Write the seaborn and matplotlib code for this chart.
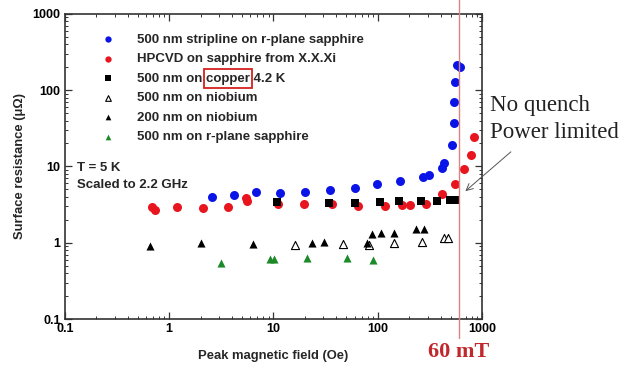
import matplotlib
matplotlib.use("Agg")
import matplotlib.pyplot as plt
import seaborn as sns
import numpy as np
from matplotlib.patches import Rectangle
from matplotlib.ticker import FixedLocator, FixedFormatter, LogLocator, NullFormatter

# ---------------- data ----------------
blue_label = "500 nm stripline on r-plane sapphire"
blue_x = [2.6, 4.2, 6.8, 11.5, 20, 35, 60, 99, 163, 273, 312, 410, 432, 515, 535, 542, 551, 572, 615]
blue_y = [3.94, 4.23, 4.59, 4.45, 4.67, 4.92, 5.27, 5.89, 6.46, 7.35, 7.74, 9.64, 11.0, 19.1, 37.5, 70.8, 127, 214, 202]

red_label = "HPCVD on sapphire from X.X.Xi"
red_x = [0.69, 0.73, 1.18, 2.09, 3.69, 5.41, 5.61, 11.0, 19.7, 36.1, 65, 117, 170, 204, 290, 410, 551, 662, 780, 826]
red_y = [2.92, 2.69, 2.92, 2.83, 2.97, 3.83, 3.56, 3.22, 3.22, 3.19, 3.04, 3.04, 3.13, 3.13, 3.22, 4.36, 5.89, 9.18, 14.2, 24.1]

cu_label = "500 nm on copper 4.2 K"
cu_x = [10.7, 34.3, 60.5, 105, 161, 258, 368, 493, 551]
cu_y = [3.39, 3.34, 3.34, 3.39, 3.56, 3.56, 3.56, 3.64, 3.64]

nb500_label = "500 nm on niobium"
nb500_x = [16.1, 46.1, 82, 143, 264, 432, 475]
nb500_y = [0.933, 0.954, 0.93, 0.984, 1.01, 1.14, 1.16]

nb200_label = "200 nm on niobium"
nb200_x = [0.65, 2.0, 6.4, 23.6, 30.7, 79, 87.5, 107, 143, 233, 278]
nb200_y = [0.906, 0.984, 0.964, 1.0, 1.01, 1.0, 1.30, 1.36, 1.33, 1.50, 1.53]

sap_label = "500 nm on r-plane sapphire"
sap_x = [3.12, 9.25, 10.2, 20.8, 50.4, 90.6]
sap_y = [0.547, 0.612, 0.612, 0.637, 0.625, 0.594]

tick_vals = [0.1, 1, 10, 100, 1000]
tick_labels = ["0.1", "1", "10", "100", "1000"]
x_title = "Peak magnetic field (Oe)"
y_title = "Surface resistance (\u03bc\u03a9)"
cond_lines = ["T = 5 K", "Scaled to 2.2 GHz"]
note_lines = ["No quench", "Power limited"]
limit_field = 600
limit_label = "60 mT"
arrow_target = (658, 4.49)

# ---------------- style ----------------
sns.set_theme(style="ticks")
plt.rcParams["font.family"] = ["Liberation Sans", "DejaVu Sans"]
plt.rcParams["font.weight"] = "bold"

fig = plt.figure(figsize=(6.23, 3.65), dpi=100)
ax = fig.add_axes([0.104, 0.126, 0.670, 0.836])

series = [
    (blue_x, blue_y, blue_label, "o", "#0a14e6", "#0a14e6", 42, 0),
    (red_x, red_y, red_label, "o", "#e8141e", "#e8141e", 42, 0),
    (cu_x, cu_y, cu_label, "s", "black", "black", 36, 0),
    (nb500_x, nb500_y, nb500_label, "^", "white", "black", 34, 0.8),
    (nb200_x, nb200_y, nb200_label, "^", "black", "black", 34, 0),
    (sap_x, sap_y, sap_label, "^", "#1d8a2a", "#1d8a2a", 34, 0),
]
for xs, ys, lab, mk, fc, ec, s, lw in series:
    sns.scatterplot(x=xs, y=ys, ax=ax, marker=mk, color=fc, edgecolor=ec,
                    linewidth=lw, s=s, label=lab, zorder=3)

ax.set_xscale("log")
ax.set_yscale("log")
ax.set_xlim(0.1, 1000)
ax.set_ylim(0.1, 1000)
for axis in (ax.xaxis, ax.yaxis):
    axis.set_major_locator(FixedLocator(tick_vals))
    axis.set_major_formatter(FixedFormatter(tick_labels))
    axis.set_minor_locator(LogLocator(base=10, subs=np.arange(2, 10)))
    axis.set_minor_formatter(NullFormatter())
ax.tick_params(which="both", direction="in", top=True, right=True, colors="#333333",
               labelcolor="black")
ax.tick_params(which="major", length=5, width=0.9, labelsize=9, pad=3)
ax.tick_params(which="minor", length=2.5, width=0.7)
for lab in ax.get_xticklabels() + ax.get_yticklabels():
    lab.set_fontweight("bold")
for sp in ax.spines.values():
    sp.set_linewidth(1.2)
    sp.set_color("#333333")

ax.set_xlabel(x_title, fontsize=9.4, fontweight="bold", labelpad=11)
ax.set_ylabel(y_title, fontsize=9.4, fontweight="bold", labelpad=5)

leg = ax.legend(loc="upper left", bbox_to_anchor=(0.072, 0.935), frameon=False,
                fontsize=9.5, handletextpad=1.2, labelspacing=0.55, markerscale=0.7,
                borderaxespad=0, borderpad=0)
for t in leg.get_texts():
    t.set_fontweight("bold")

ax.text(0.029, 0.495, cond_lines[0], transform=ax.transAxes, fontsize=9.5,
        fontweight="bold", va="center", ha="left")
ax.text(0.029, 0.44, cond_lines[1], transform=ax.transAxes, fontsize=9.5,
        fontweight="bold", va="center", ha="left")

# 60 mT limit line
ax.axvline(limit_field, ymin=-0.062, ymax=1.046, color="#d98585", lw=1.0,
           clip_on=False, zorder=4)
fig.text(459 / 623, 1 - 352 / 365, limit_label, color="#c0282d", fontsize=16,
         fontweight="bold", family=["Liberation Serif", "DejaVu Serif"],
         ha="center", va="center")

fig.text(490 / 623, 1 - 106 / 365, note_lines[0], fontsize=16.5, fontweight="normal",
         family=["Liberation Serif", "DejaVu Serif"], ha="left", va="center", color="#222222")
fig.text(490 / 623, 1 - 133 / 365, note_lines[1], fontsize=16.5, fontweight="normal",
         family=["Liberation Serif", "DejaVu Serif"], ha="left", va="center", color="#222222")
ax.annotate("", xy=arrow_target, xycoords="data",
            xytext=(513 / 623, 1 - 150 / 365), textcoords="figure fraction",
            arrowprops=dict(arrowstyle="->", color="#555555", lw=0.7),
            annotation_clip=False)

# red box around "copper"
fig.canvas.draw()
renderer = fig.canvas.get_renderer()
cu_text = leg.get_texts()[2]
bb = cu_text.get_window_extent(renderer)
fp = cu_text.get_fontproperties()
tmp = fig.text(0, 0, "500 nm on copper", fontproperties=fp)
w_full = tmp.get_window_extent(renderer).width
tmp.set_text("copper")
w_word = tmp.get_window_extent(renderer).width
tmp.remove()
x0 = bb.x0 + w_full - w_word - 2
x1 = bb.x0 + w_full + 2
yc = (bb.y0 + bb.y1) / 2
inv = fig.transFigure.inverted()
(fx0, fy0) = inv.transform((x0, yc - 9.5))
(fx1, fy1) = inv.transform((x1, yc + 9.5))
fig.patches.append(Rectangle((fx0, fy0), fx1 - fx0, fy1 - fy0, transform=fig.transFigure,
                             fill=False, edgecolor="#d42020", lw=1.3))

fig.savefig("out.png", dpi=100)
